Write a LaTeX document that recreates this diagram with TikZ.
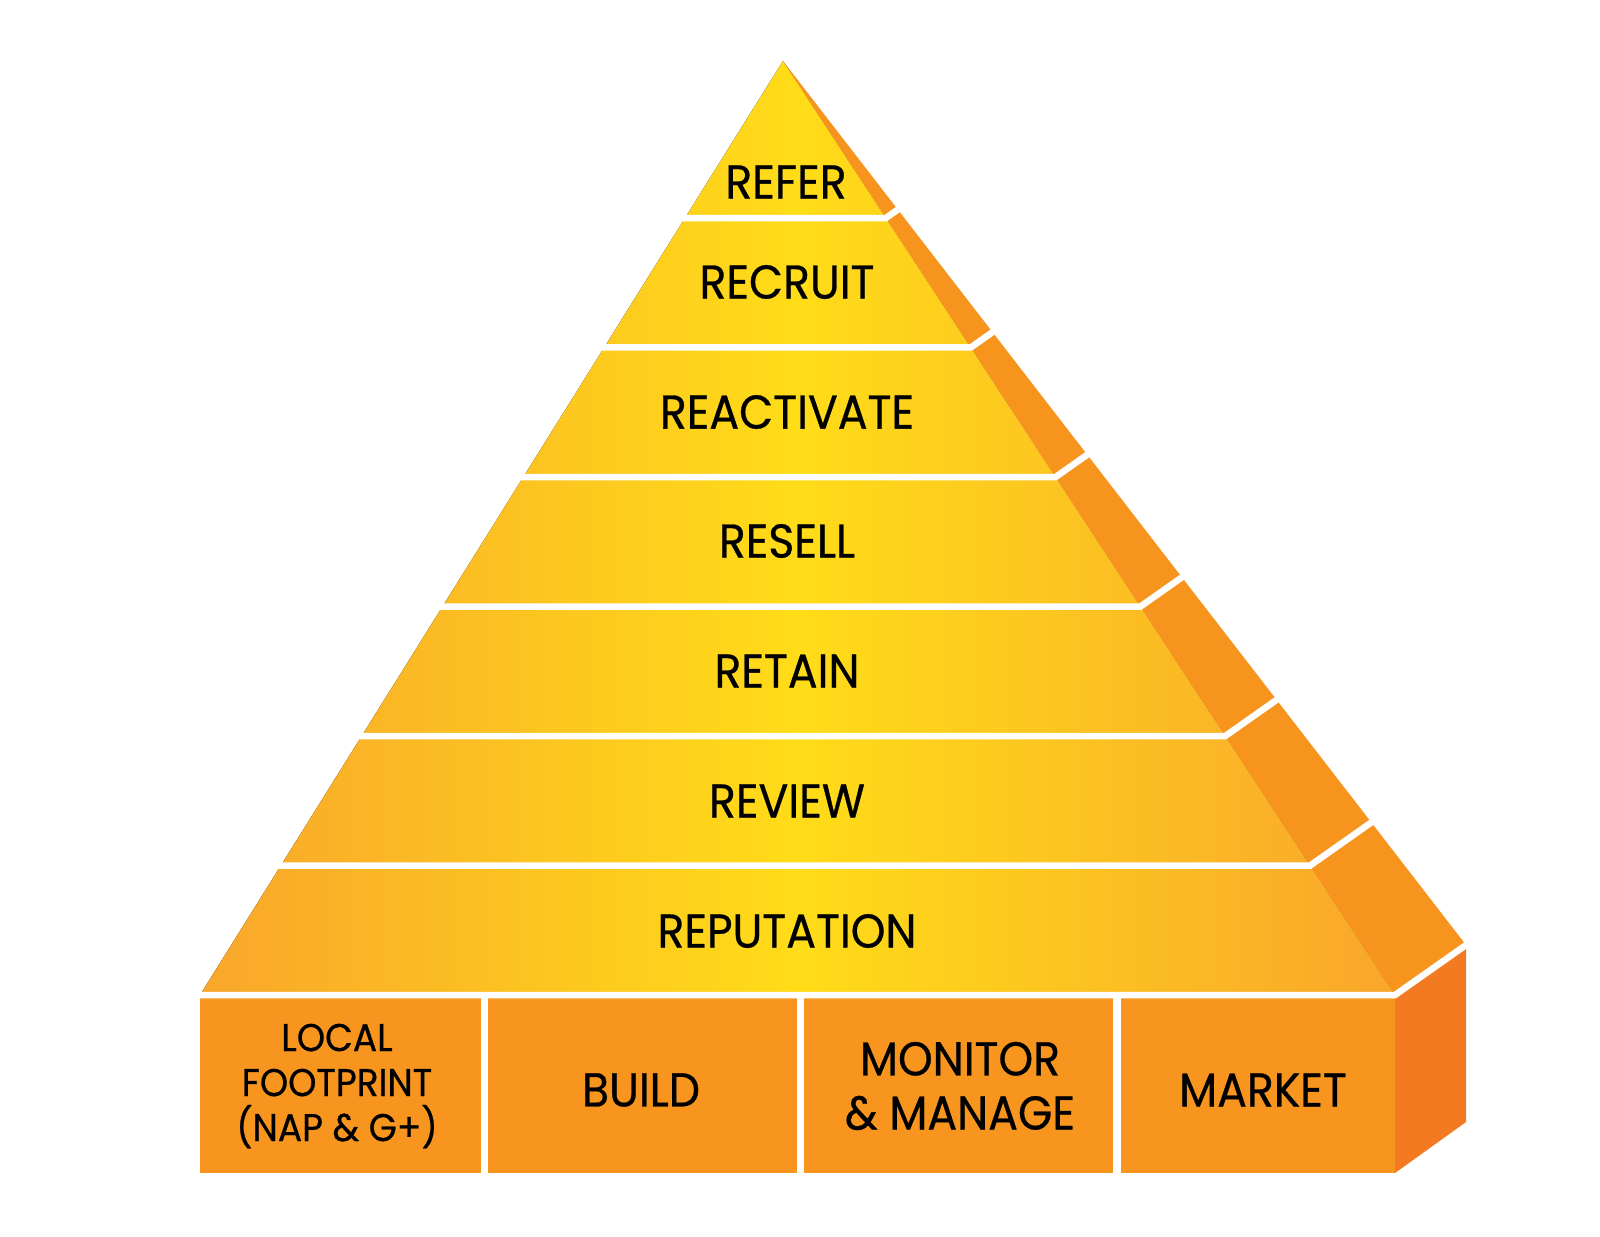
\documentclass[tikz,border=0pt]{standalone}
\usepackage{fontspec}
\setmainfont{Poppins}[FakeStretch=0.93, FakeBold=0.6]
\usetikzlibrary{calc,positioning}
\definecolor{pyredge}{HTML}{F9A62B}
\definecolor{pyrmid}{HTML}{FFDC18}
\definecolor{sideorange}{HTML}{F7941D}
\definecolor{boxfront}{HTML}{F7951F}
\definecolor{boxside}{HTML}{F37A21}

\begin{document}
\begin{tikzpicture}[x=0.01cm,y=-0.01cm,
    lbl/.style={font=\fontsize{13.5}{16}\selectfont, inner sep=0pt, align=center},
    cell/.style={font=\fontsize{13.5}{15.4}\selectfont, inner sep=0pt, align=center},
    small/.style={font=\fontsize{11}{12.8}\selectfont, inner sep=0pt, align=center},
    sep/.style={draw=white, line width=1.85pt, line join=miter},
    divider/.style={draw=white, line width=2pt}
]
\useasboundingbox (0,0) rectangle (1600,1236);

% corners of the pyramid and its base block
\coordinate (apex) at (783,61);
\coordinate (fl) at (200,995);
\coordinate (fr) at (1395,995);
\coordinate (bk) at (1466,945);
\coordinate (bl) at (200,1173);
\coordinate (br) at (1395,1173);
\coordinate (bkb) at (1466,1122);

% faces
\fill[left color=pyredge, right color=pyredge, middle color=pyrmid] (apex) -- (fl) -- (fr) -- cycle;
\fill[sideorange] (apex) -- (fr) -- (bk) -- cycle;
\fill[boxfront] (fl) rectangle (br);
\fill[boxside] (fr) -- (bk) -- (bkb) -- (br) -- cycle;

% white bands between the layers
\foreach \k in {0,...,6}{
  \pgfmathsetmacro\t{(934-129.5*\k)/934}
  \draw[sep, shorten <=-0.05cm, shorten >=-0.05cm] ($(apex)!\t!(fl)$) -- ($(apex)!\t!(fr)$) -- ($(apex)!\t!(bk)$);
}

% block dividers
\foreach \x in {484.5,800.5,1117}
  \draw[divider] (\x,995) -- (\x,1174);

% layer labels
\node[lbl] (refer) at (786,182) {REFER};
\node[lbl] (recruit) at (787,282) {RECRUIT};
\node[lbl] (reactivate) at (787,412) {REACTIVATE};
\node[lbl] (resell) at (787,541) {RESELL};
\node[lbl] (retain) at (787,671) {RETAIN};
\node[lbl] (review) at (787,801) {REVIEW};
\node[lbl] (reputation) at (787,931) {REPUTATION};

% base block labels
\node[small] (local) at (337,1086) {LOCAL\\FOOTPRINT\\(NAP \& G+)};
\node[cell] (build) at (641,1090) {BUILD};
\node[cell] (monitor) at (960,1086) {MONITOR\\\& MANAGE};
\node[cell] (market) at (1263,1090) {MARKET};
\end{tikzpicture}
\end{document}
